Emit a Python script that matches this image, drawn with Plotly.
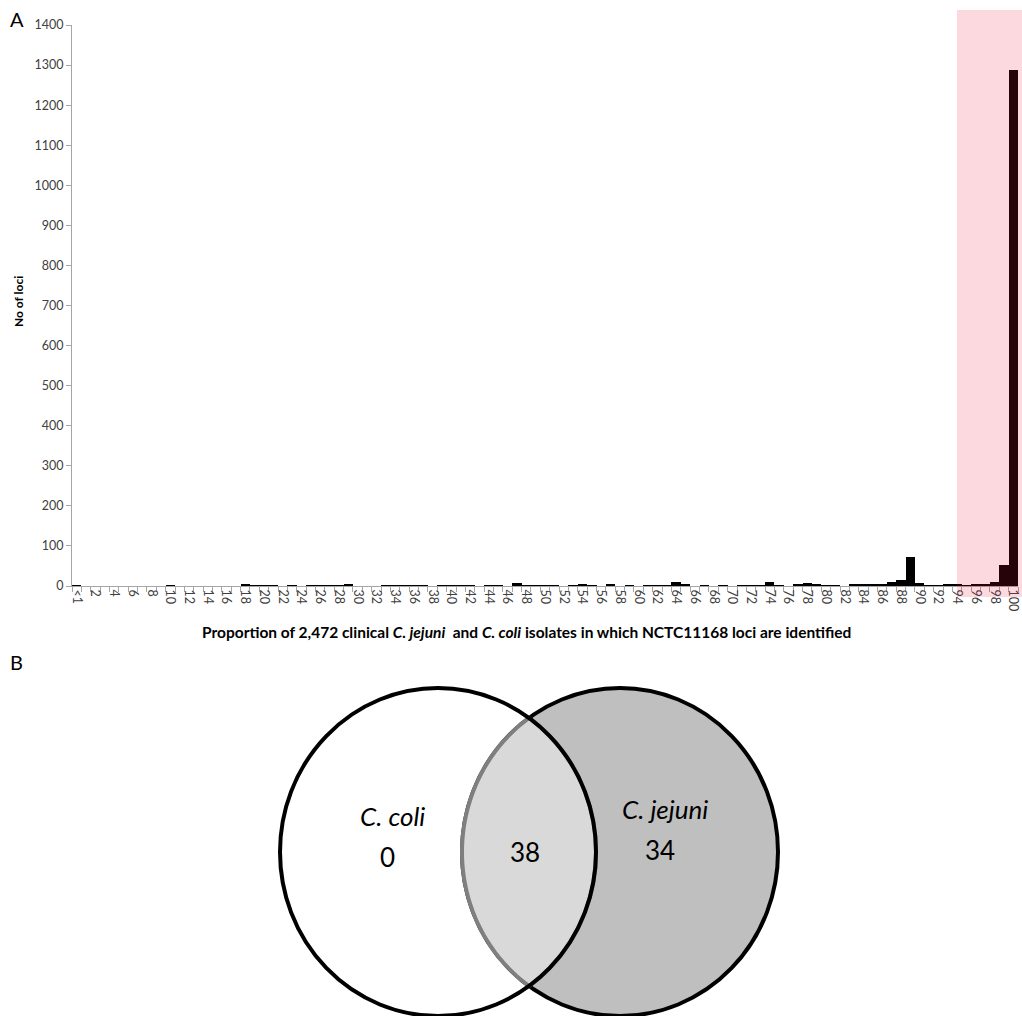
import numpy as np
import plotly.graph_objects as go

W, H = 1022, 1016

# ---------------- data ----------------
categories = ["<1"] + [str(i) for i in range(1, 101)]
loci_counts = [
    1,                                  # <1
    0, 0, 0, 0, 0, 0, 0, 0, 0, 2,       # 1-10
    0, 0, 0, 0, 0, 0, 0, 6, 2, 2,       # 11-20
    2, 0, 2, 0, 2, 2, 2, 2, 5, 0,       # 21-30
    0, 0, 2, 2, 2, 2, 2, 0, 2, 2,       # 31-40
    2, 2, 0, 2, 2, 0, 7, 2, 2, 2,       # 41-50
    2, 0, 2, 3, 2, 0, 4, 0, 2, 0,       # 51-60
    2, 2, 2, 11, 3, 0, 2, 0, 2, 0,      # 61-70
    2, 2, 2, 9, 2, 0, 4, 8, 3, 2,       # 71-80
    2, 0, 5, 5, 5, 5, 9, 16, 72, 7,     # 81-90
    1, 1, 6, 4, 2, 4, 4, 10, 52, 1288,  # 91-100
]
y_ticks = list(range(0, 1401, 100))

venn_sets = ["C. coli", "C. jejuni"]
venn_only_coli = 0
venn_shared = 38
venn_only_jejuni = 34

x_title = ("Proportion of 2,472 clinical <i>C. jejuni</i>  and <i>C. coli</i> "
           "isolates in which NCTC11168 loci are identified")
y_title = "No of loci"

FONT = "Lato, 'Open Sans', sans-serif"


def px(x):
    return x / W


def py(y):
    return 1 - y / H


fig = go.Figure()
fig.add_trace(go.Bar(
    x=categories, y=loci_counts,
    marker=dict(color="#000000", line=dict(width=0)),
    hoverinfo="x+y",
))

fig.update_layout(
    width=W, height=H,
    margin=dict(l=0, r=0, t=0, b=0),
    paper_bgcolor="white", plot_bgcolor="white",
    bargap=0,
    showlegend=False,
    font=dict(family=FONT, color="#404040"),
    xaxis=dict(
        type="category",
        domain=[px(72), px(1018)],
        range=[-0.5, len(categories) - 0.5],
        showline=True, linecolor="#a6a6a6", linewidth=1,
        ticks="outside", ticklen=5, tickcolor="#a6a6a6",
        tickmode="linear", tick0=0, dtick=1,
        tickson="boundaries", ticklabelstep=2,
        tickangle=90,
        tickfont=dict(size=12.5, color="#404040", family=FONT),
        showgrid=False, zeroline=False, automargin=False,
    ),
    yaxis=dict(
        domain=[py(586), py(25)],
        range=[0, 1400],
        tickvals=y_ticks,
        showline=True, linecolor="#a6a6a6", linewidth=1,
        ticks="outside", ticklen=5, tickcolor="#a6a6a6",
        tickfont=dict(size=12.5, color="#404040", family=FONT),
        showgrid=False, zeroline=False, automargin=False,
    ),
)

shapes = []
# highlighted region
shapes.append(dict(
    type="rect", xref="paper", yref="paper",
    x0=px(957), x1=px(1022), y0=py(597), y1=py(10),
    fillcolor="rgba(228,20,50,0.16)", line=dict(width=0), layer="above",
))

# Venn geometry (pixels)
lcx, rcx, cy, rx, ry = 438, 620, 852, 158, 164
shapes.append(dict(
    type="circle", xref="paper", yref="paper",
    x0=px(rcx - rx), x1=px(rcx + rx), y0=py(cy + ry), y1=py(cy - ry),
    fillcolor="#bfbfbf", line=dict(color="black", width=4),
))
# lens
xm = (lcx + rcx) / 2
dy_max = ry * np.sqrt(1 - ((xm - lcx) / rx) ** 2)
t = np.linspace(-dy_max, dy_max, 80)
left_arc_x = rcx - rx * np.sqrt(np.clip(1 - (t / ry) ** 2, 0, 1))
right_arc_x = lcx + rx * np.sqrt(np.clip(1 - (t / ry) ** 2, 0, 1))
pts = [(left_arc_x[i], cy + t[i]) for i in range(len(t))]
pts += [(right_arc_x[i], cy + t[i]) for i in range(len(t) - 1, -1, -1)]
path = "M " + " L ".join(f"{px(a):.5f},{py(b):.5f}" for a, b in pts) + " Z"
shapes.append(dict(
    type="path", xref="paper", yref="paper", path=path,
    fillcolor="#d9d9d9", line=dict(color="#7f7f7f", width=4),
))
shapes.append(dict(
    type="circle", xref="paper", yref="paper",
    x0=px(lcx - rx), x1=px(lcx + rx), y0=py(cy + ry), y1=py(cy - ry),
    fillcolor="rgba(0,0,0,0)", line=dict(color="black", width=4),
))
fig.update_layout(shapes=shapes)

ann = []


def add_text(text, x, y, size, color="#000000", bold=False, angle=0, xanchor="center"):
    ann.append(dict(
        text=f"<b>{text}</b>" if bold else text,
        xref="paper", yref="paper", x=px(x), y=py(y),
        xanchor=xanchor, yanchor="middle", showarrow=False,
        textangle=angle, font=dict(size=size, color=color, family=FONT),
    ))


add_text("A", 17, 19, 20)
add_text("B", 16, 662, 20)
add_text(x_title, 526, 632, 15.5, bold=True)
add_text(y_title, 18, 302, 12, bold=True, angle=-90)
add_text(f"<i>{venn_sets[0]}</i>", 392, 816, 26)
add_text(str(venn_only_coli), 387, 857, 26)
add_text(str(venn_shared), 525, 852, 26)
add_text(f"<i>{venn_sets[1]}</i>", 665, 809, 26)
add_text(str(venn_only_jejuni), 660, 850, 26)
fig.update_layout(annotations=ann)

fig.write_html(
    "out.html",
    config={"displayModeBar": False},
    post_script="document.body.style.margin='0';document.body.style.overflow='hidden';",
)
